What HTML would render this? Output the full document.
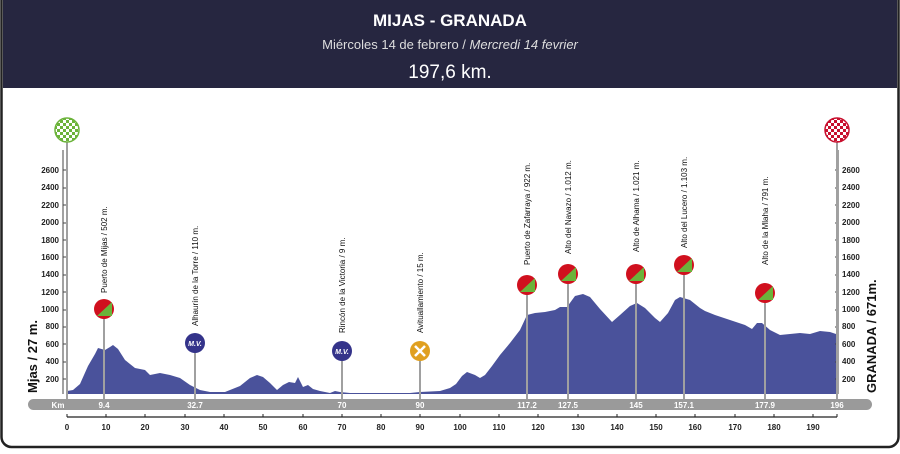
<!DOCTYPE html><html><head><meta charset="utf-8"><style>
body{margin:0;width:900px;height:449px;overflow:hidden;background:#fff;font-family:"Liberation Sans",sans-serif}
</style></head><body>
<svg width="900" height="449" viewBox="0 0 900 449" xmlns="http://www.w3.org/2000/svg" font-family="Liberation Sans, sans-serif">
<defs>
<pattern id="gck" width="6" height="6" patternUnits="userSpaceOnUse"><rect width="6" height="6" fill="#fff"/><rect width="3" height="3" fill="#6bb33a"/><rect x="3" y="3" width="3" height="3" fill="#6bb33a"/></pattern>
<pattern id="rck" width="6" height="6" patternUnits="userSpaceOnUse"><rect width="6" height="6" fill="#fff"/><rect width="3" height="3" fill="#c8102e"/><rect x="3" y="3" width="3" height="3" fill="#c8102e"/></pattern>
</defs>
<rect x="1.5" y="-10" width="897" height="457" rx="10" fill="#fff" stroke="#222" stroke-width="2.5"/>
<rect x="3" y="0" width="894" height="88" fill="#262640"/>
<text x="450" y="26" fill="#fff" font-size="17" font-weight="bold" text-anchor="middle">MIJAS - GRANADA</text>
<text x="450" y="49" fill="#ddd" font-size="13" text-anchor="middle">Miércoles 14 de febrero / <tspan font-style="italic">Mercredi 14 fevrier</tspan></text>
<text x="450" y="78" fill="#fff" font-size="19" text-anchor="middle">197,6 km.</text>

<path fill="#4a529b" d="M67,394 L67,391 73,390 80,384 88,366 95,354 98,348 105,350 110,347 113,345 118,349 125,360 135,368 145,370 150,375 160,373 170,375 180,378 190,385 200,390 210,392 225,392 235,388 240,386 250,378 257,375 263,377 270,383 277,390 283,385 289,382 295,383 298,377 303,387 308,385 313,389 320,391 330,393 335,391 340,392 350,393 410,393 420,392 440,391 450,388 456,384 462,376 467,372 475,375 480,378 485,375 492,366 500,355 510,343 520,330 527,315 535,313 545,312 555,310 560,307 567,307 575,296 583,294 590,297 600,309 612,322 620,315 630,306 637,303 645,308 655,318 660,322 668,313 675,300 680,297 690,300 700,308 705,311 715,315 730,320 745,325 752,329 757,323 762,323 770,330 780,335 790,334 800,333 810,334 820,331 830,332 836,334 836,394 Z"/>

<g fill="#222" font-size="8" font-weight="bold">
<line x1="63" y1="150" x2="63" y2="394" stroke="#444" stroke-width="1"/>
<line x1="838" y1="150" x2="838" y2="394" stroke="#444" stroke-width="1"/>
<g text-anchor="end">
<text x="59" y="382">200</text><text x="59" y="364">400</text><text x="59" y="347">600</text><text x="59" y="329">800</text><text x="59" y="312">1000</text><text x="59" y="295">1200</text><text x="59" y="277">1400</text><text x="59" y="260">1600</text><text x="59" y="243">1800</text><text x="59" y="225">2000</text><text x="59" y="208">2200</text><text x="59" y="190">2400</text><text x="59" y="173">2600</text>
</g>
<text x="842" y="382">200</text><text x="842" y="364">400</text><text x="842" y="347">600</text><text x="842" y="329">800</text><text x="842" y="312">1000</text><text x="842" y="295">1200</text><text x="842" y="277">1400</text><text x="842" y="260">1600</text><text x="842" y="243">1800</text><text x="842" y="225">2000</text><text x="842" y="208">2200</text><text x="842" y="190">2400</text><text x="842" y="173">2600</text>
</g>
<path stroke="#444" stroke-width="1" d="M63,379h3M63,362h3M63,344h3M63,327h3M63,310h3M63,292h3M63,275h3M63,257h3M63,240h3M63,223h3M63,205h3M63,188h3M63,170h3M835,379h3M835,362h3M835,344h3M835,327h3M835,310h3M835,292h3M835,275h3M835,257h3M835,240h3M835,223h3M835,205h3M835,188h3M835,170h3"/>
<text transform="translate(37,393) rotate(-90)" font-size="13" font-weight="bold" fill="#111">Mjas / 27 m.</text>
<text transform="translate(876,393) rotate(-90)" font-size="13" font-weight="bold" fill="#111">GRANADA / 671m.</text>

<rect x="28" y="399" width="844" height="11" rx="5.5" fill="#9a9a9a"/>
<g fill="#fff" font-size="8" font-weight="bold" text-anchor="middle">
<text x="58" y="408">Km</text><text x="104" y="408">9.4</text><text x="195" y="408">32.7</text><text x="342" y="408">70</text><text x="420" y="408">90</text><text x="527" y="408">117.2</text><text x="568" y="408">127.5</text><text x="636" y="408">145</text><text x="684" y="408">157.1</text><text x="765" y="408">177.9</text><text x="837" y="408">196</text>
</g>
<line x1="67" y1="417" x2="837" y2="417" stroke="#222" stroke-width="1.2"/>
<path stroke="#222" stroke-width="1" d="M67,414v3M106,414v3M145,414v3M185,414v3M224,414v3M263,414v3M303,414v3M342,414v3M381,414v3M420,414v3M460,414v3M499,414v3M538,414v3M578,414v3M617,414v3M656,414v3M695,414v3M735,414v3M774,414v3M813,414v3M837,414v3"/>
<g fill="#222" font-size="8" font-weight="bold" text-anchor="middle">
<text x="67" y="430">0</text><text x="106" y="430">10</text><text x="145" y="430">20</text><text x="185" y="430">30</text><text x="224" y="430">40</text><text x="263" y="430">50</text><text x="303" y="430">60</text><text x="342" y="430">70</text><text x="381" y="430">80</text><text x="420" y="430">90</text><text x="460" y="430">100</text><text x="499" y="430">110</text><text x="538" y="430">120</text><text x="578" y="430">130</text><text x="617" y="430">140</text><text x="656" y="430">150</text><text x="695" y="430">160</text><text x="735" y="430">170</text><text x="774" y="430">180</text><text x="813" y="430">190</text>
</g>

<g stroke="#a0a0a0" stroke-width="2">
<line x1="67" y1="130" x2="67" y2="399"/><line x1="837" y1="130" x2="837" y2="399"/>
<line x1="104" y1="309" x2="104" y2="399"/><line x1="195" y1="343" x2="195" y2="399"/><line x1="342" y1="351" x2="342" y2="399"/><line x1="420" y1="351" x2="420" y2="399"/>
<line x1="527" y1="285" x2="527" y2="399"/><line x1="568" y1="274" x2="568" y2="399"/><line x1="636" y1="274" x2="636" y2="399"/><line x1="684" y1="265" x2="684" y2="399"/><line x1="765" y1="293" x2="765" y2="399"/>
</g>
<circle cx="67" cy="130" r="12" fill="url(#gck)" stroke="#6bb33a" stroke-width="1.5"/>
<circle cx="837" cy="130" r="12" fill="url(#rck)" stroke="#c8102e" stroke-width="1.5"/>
<g>
<circle cx="104" cy="309" r="10" fill="#d0101e"/><circle cx="527" cy="285" r="10" fill="#d0101e"/><circle cx="568" cy="274" r="10" fill="#d0101e"/><circle cx="636" cy="274" r="10" fill="#d0101e"/><circle cx="684" cy="265" r="10" fill="#d0101e"/><circle cx="765" cy="293" r="10" fill="#d0101e"/>
</g>
<g fill="#6bb33a">
<path d="M97,316 L112,302 112,316Z"/><path d="M520,292 L535,278 535,292Z"/><path d="M561,281 L576,267 576,281Z"/><path d="M629,281 L644,267 644,281Z"/><path d="M677,272 L692,258 692,272Z"/><path d="M758,300 L773,286 773,300Z"/>
</g>
<circle cx="195" cy="343" r="10" fill="#34338a"/><circle cx="342" cy="351" r="10" fill="#34338a"/>
<text x="195" y="346" fill="#fff" font-size="7" font-weight="bold" font-style="italic" text-anchor="middle">M.V.</text>
<text x="342" y="354" fill="#fff" font-size="7" font-weight="bold" font-style="italic" text-anchor="middle">M.V.</text>
<circle cx="420" cy="351" r="10" fill="#e0a020"/>
<path d="M415,346 L425,356 M425,346 L415,356" stroke="#fff" stroke-width="2.5"/>

<g font-size="8" fill="#111">
<text transform="translate(107,293) rotate(-90)">Puerto de Mijas / 502 m.</text>
<text transform="translate(198,326) rotate(-90)">Alhaurín de la Torre / 110 m.</text>
<text transform="translate(345,333) rotate(-90)">Rincón de la Victoria / 9 m.</text>
<text transform="translate(423,333) rotate(-90)">Avituallamiento / 15 m.</text>
<text transform="translate(530,265) rotate(-90)">Puerto de Zafarraya / 922 m.</text>
<text transform="translate(571,254) rotate(-90)">Alto del Navazo / 1.012 m.</text>
<text transform="translate(639,252) rotate(-90)">Alto de Alhama / 1.021 m.</text>
<text transform="translate(687,248) rotate(-90)">Alto del Lucero / 1.103 m.</text>
<text transform="translate(768,265) rotate(-90)">Alto de la Mlaha / 791 m.</text>
</g>
</svg>
</body></html>
